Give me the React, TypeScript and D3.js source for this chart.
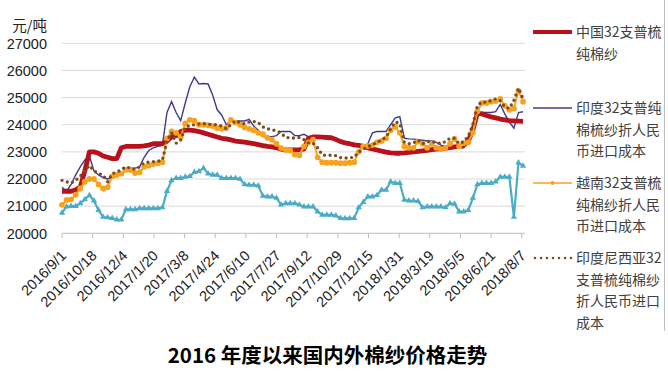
import React from "react";
import * as d3 from "d3";

const dates: string[] = [
  "2016/9/1","2016/9/8","2016/9/15","2016/9/22","2016/9/29","2016/10/6","2016/10/13","2016/10/20","2016/10/27",
  "2016/11/3","2016/11/10","2016/11/17","2016/11/24","2016/12/1","2016/12/8","2016/12/15","2016/12/22","2016/12/29",
  "2017/1/5","2017/1/12","2017/1/19","2017/1/26","2017/2/2","2017/2/9","2017/2/16","2017/2/23",
  "2017/3/2","2017/3/9","2017/3/16","2017/3/23","2017/3/30","2017/4/6","2017/4/13","2017/4/20","2017/4/27",
  "2017/5/4","2017/5/11","2017/5/18","2017/5/25","2017/6/1","2017/6/8","2017/6/15","2017/6/22","2017/6/29",
  "2017/7/6","2017/7/13","2017/7/20","2017/7/27","2017/8/3","2017/8/10","2017/8/17","2017/8/24","2017/8/31",
  "2017/9/7","2017/9/14","2017/9/21","2017/9/28","2017/10/5","2017/10/12","2017/10/19","2017/10/26",
  "2017/11/2","2017/11/9","2017/11/16","2017/11/23","2017/11/30","2017/12/7","2017/12/14","2017/12/21","2017/12/28",
  "2018/1/4","2018/1/11","2018/1/18","2018/1/25","2018/2/1","2018/2/8","2018/2/15","2018/2/22",
  "2018/3/1","2018/3/8","2018/3/15","2018/3/22","2018/3/29","2018/4/5","2018/4/12","2018/4/19","2018/4/26",
  "2018/5/3","2018/5/10","2018/5/17","2018/5/24","2018/5/31","2018/6/7","2018/6/14","2018/6/21","2018/6/28",
  "2018/7/5","2018/7/12","2018/7/19","2018/7/26","2018/8/2","2018/8/9",
];

const china: number[] = [
  21550,21550,21550,21600,21700,22300,23000,23000,22950,22850,22800,22750,22750,23150,23200,23200,23200,23200,
  23220,23250,23300,23300,23300,23400,23550,23600,23750,23800,23800,23780,23750,23700,23650,23600,23550,
  23500,23480,23440,23400,23380,23360,23330,23300,23270,23230,23200,23180,23150,23100,23070,23070,23070,23080,
  23100,23500,23550,23550,23540,23530,23520,23460,23380,23330,23300,23260,23240,23200,23150,23110,23070,
  23030,22990,22960,22950,22950,22960,22980,23000,23020,23040,23060,23080,23100,23120,23140,23160,23180,
  23200,23250,23400,23800,24430,24400,24340,24290,24250,24210,24180,24150,24140,24130,24120,
];

const india: number[] = [
  21700,21550,21800,22150,22450,22700,22850,22300,22150,22050,22000,22050,22100,22200,22350,22400,22400,22450,
  22800,23050,23150,23200,23250,24450,24850,24450,24150,24800,25400,25750,25500,25520,25500,25100,24550,
  24350,24000,24140,24140,24140,24140,24200,23950,23800,23560,23560,23560,23600,23750,23750,23750,23600,23600,
  23650,23550,23550,23550,23540,23530,23520,23460,23380,23330,23300,23260,23240,23200,23300,23700,23750,
  23750,23750,24000,24250,24300,23500,23480,23470,23450,23430,23400,23400,23350,23250,23200,23170,23150,
  23150,23150,23400,23800,24400,24450,24450,24450,24480,24750,24400,24100,23870,24450,24480,
];

const vietnam: number[] = [
  21050,21230,21250,21420,21650,21900,22000,22000,21800,21650,21700,22100,22150,22200,22340,22330,22220,22250,
  22450,22500,22550,22580,22620,23500,23750,23700,23550,24050,24180,24150,24000,24000,23980,23950,23870,
  23850,23880,24180,24080,24000,23900,23850,23800,23700,23650,23520,23450,23300,23140,23080,23050,22900,22880,
  23200,23350,23450,22800,22620,22600,22600,22600,22580,22580,22600,22620,23000,23200,23220,23250,23350,
  23400,23500,23800,23930,23700,23200,23150,23150,23380,23300,23150,23300,23150,23100,23150,23300,23480,
  23200,23320,23350,23700,24500,24800,24800,24850,24870,24950,24700,24550,24600,25250,24850,
];

const indonesia: number[] = [
  21950,21900,21850,21950,22100,22300,22500,22300,22200,22150,21900,22200,22250,22350,22450,22400,22350,22450,
  22600,22620,22640,22650,22700,23400,23700,23320,23440,23900,23980,24000,24030,24040,24020,24000,24000,
  23950,23850,24000,24150,24080,24030,24100,24120,24080,23920,23850,23810,23780,23700,23530,23520,23510,23530,
  23450,23330,23320,23150,22890,22870,22880,22860,22790,22770,22780,22800,23000,23100,23200,23250,23370,
  23420,23560,23850,24100,24050,23350,23300,23330,23440,23300,23380,23380,23350,23300,23380,23500,23500,
  23300,23380,23580,24000,24700,24850,24820,24900,24950,24880,24650,24600,24900,25350,24950,
];

const otherSeries: number[] = [
  20750,20980,21000,21000,21100,21250,21400,21200,20850,20600,20580,20560,20500,20500,20880,20880,20880,20920,
  20920,20920,20920,20920,20950,21550,21950,22030,22030,22080,22100,22250,22280,22400,22200,22150,22150,
  22030,22030,22030,22030,22000,21800,21780,21780,21750,21380,21350,21350,21300,21050,21100,21100,21100,21050,
  20980,20980,20980,20800,20680,20680,20680,20650,20560,20550,20550,20560,20950,21150,21350,21350,21400,
  21600,21600,21900,21850,21850,21230,21200,21200,21180,20950,20980,20980,20980,20980,20950,21100,21080,
  20800,20800,20850,21300,21800,21850,21850,21850,21900,22080,22080,22080,20600,22600,22480,
];

const xTickLabels: string[] = [
  "2016/9/1","2016/10/18","2016/12/4","2017/1/20","2017/3/8","2017/4/24","2017/6/10","2017/7/27",
  "2017/9/12","2017/10/29","2017/12/15","2018/1/31","2018/3/19","2018/5/5","2018/6/21","2018/8/7",
];
const yTicks: number[] = [20000, 21000, 22000, 23000, 24000, 25000, 26000, 27000];

const legendItems = [
  { key: "china", lines: ["中国32支普梳", "纯棉纱"] },
  { key: "india", lines: ["印度32支普纯", "棉梳纱折人民", "币进口成本"] },
  { key: "vietnam", lines: ["越南32支普梳", "纯棉纱折人民", "币进口成本"] },
  { key: "indonesia", lines: ["印度尼西亚32", "支普梳纯棉纱", "折人民币进口", "成本"] },
];

const title = "2016 年度以来国内外棉纱价格走势";
const yUnit = "元/吨";

const parse = (s: string) => {
  const [y, m, d] = s.split("/").map(Number);
  return new Date(y, m - 1, d);
};

const COLORS = {
  china: "#B8111B",
  india: "#3C3C8C",
  vietnam: "#F7A21F",
  indonesia: "#7A4E22",
  other: "#4BACC6",
};

export default function App() {
  const x = d3.scaleTime().domain([parse("2016/9/1"), parse("2018/8/12")]).range([62, 525]);
  const y = d3.scaleLinear().domain([20000, 27000]).range([233.3, 43.3]);
  const dd = dates.map(parse);
  const line = d3
    .line<number>()
    .x((_, i) => x(dd[i]))
    .y((v) => y(v));
  const tri = d3.symbol().type(d3.symbolTriangle).size(17)();
  const font = "'Liberation Sans', Arial, sans-serif";
  const cjk = "'Noto Sans CJK SC', sans-serif";
  const legendY = [32, 108, 183, 258];
  const lineH = 21.7;

  return (
    <svg width={668} height={383} style={{ position: "absolute", left: 0, top: 0, background: "#fff" }}>
      <rect x={0} y={0} width={668} height={383} fill="#fff" />
      {yTicks.slice(1).map((t) => (
        <line key={t} x1={62} x2={525} y1={y(t)} y2={y(t)} stroke="#D9D9D9" strokeWidth={1} />
      ))}
      <line x1={62} x2={525} y1={y(20000)} y2={y(20000)} stroke="#BFBFBF" strokeWidth={1} />
      {xTickLabels.map((t) => (
        <line key={t} x1={x(parse(t))} x2={x(parse(t))} y1={y(20000)} y2={y(20000) + 5} stroke="#BFBFBF" />
      ))}
      {yTicks.map((t) => (
        <text key={t} x={47} y={y(t)} dy="0.36em" textAnchor="end" fontFamily={font} fontSize={14.5} fill="#222">
          {t}
        </text>
      ))}
      <text x={47} y={31} textAnchor="end" fontFamily={cjk} fontSize={14.5} fill="#222">
        {yUnit}
      </text>
      {xTickLabels.map((t) => (
        <text
          key={t}
          transform={`translate(${x(parse(t)) + 1.5},${253}) rotate(-45)`}
          dy="0.35em"
          textAnchor="end"
          fontFamily={font}
          fontSize={14.5}
          fill="#222"
        >
          {t}
        </text>
      ))}
      <path d={line(otherSeries) || ""} fill="none" stroke={COLORS.other} strokeWidth={2.2} />
      {otherSeries.map((v, i) => (
        <path key={i} d={tri || ""} transform={`translate(${x(dd[i])},${y(v)})`} fill={COLORS.other} />
      ))}
      <path d={line(india) || ""} fill="none" stroke={COLORS.india} strokeWidth={1.4} />
      <path d={line(china) || ""} fill="none" stroke={COLORS.china} strokeWidth={4.8} strokeLinejoin="round" />
      <path d={line(vietnam) || ""} fill="none" stroke={COLORS.vietnam} strokeWidth={2} />
      {vietnam.map((v, i) => (
        <circle key={i} cx={x(dd[i])} cy={y(v)} r={2.9} fill={COLORS.vietnam} />
      ))}
      <path
        d={line(indonesia) || ""}
        fill="none"
        stroke={COLORS.indonesia}
        strokeWidth={3.4}
        strokeDasharray="0 5.5"
        strokeLinecap="round"
      />
      <g>
        <line x1={533} x2={572} y1={legendY[0]} y2={legendY[0]} stroke={COLORS.china} strokeWidth={4} />
        <line x1={533} x2={572} y1={legendY[1]} y2={legendY[1]} stroke={COLORS.india} strokeWidth={1.4} />
        <line x1={533} x2={572} y1={legendY[2]} y2={legendY[2]} stroke={COLORS.vietnam} strokeWidth={1.4} />
        <circle cx={552.5} cy={legendY[2]} r={2} fill={COLORS.vietnam} />
        <line
          x1={535}
          x2={572}
          y1={legendY[3]}
          y2={legendY[3]}
          stroke={COLORS.indonesia}
          strokeWidth={2.6}
          strokeDasharray="0 6"
          strokeLinecap="round"
        />
        <clipPath id="lgclip">
          <rect x={520} y={0} width={144} height={331} />
        </clipPath>
        <g clipPath="url(#lgclip)">
          {legendItems.map((it, i) =>
            it.lines.map((ln, j) => (
              <text
                key={it.key + j}
                x={576}
                y={legendY[i] + j * lineH}
                dy="0.36em"
                fontFamily={cjk}
                fontSize={14}
                fill="#404040"
              >
                {ln}
              </text>
            ))
          )}
        </g>
      </g>
      <line x1={664.5} x2={664.5} y1={0} y2={331} stroke="#BFBFBF" strokeWidth={1} />
      <text x={327.5} y={363} textAnchor="middle" fontFamily={cjk} fontWeight="bold" fontSize={20.5} fill="#000">
        {title}
      </text>
    </svg>
  );
}
